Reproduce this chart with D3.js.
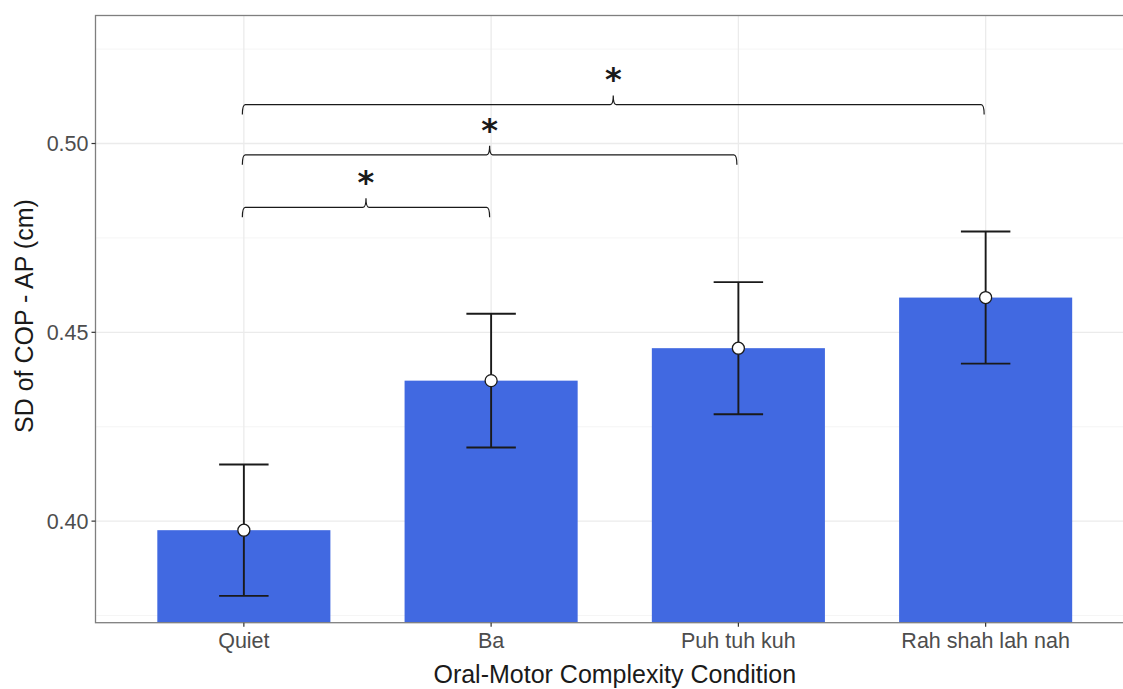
<!DOCTYPE html>
<html>
<head>
<meta charset="utf-8">
<script src="https://cdn.jsdelivr.net/npm/d3@7"></script>
<style>
  body { margin: 0; background: #fff; }
  text { font-family: "Liberation Sans", Arial, sans-serif; }
</style>
</head>
<body>
<div id="chart"></div>
<script>
// data
var conditions = ["Quiet", "Ba", "Puh tuh kuh", "Rah shah lah nah"];
var means = [0.3976, 0.4372, 0.4458, 0.4592];
var errs = [0.0174, 0.0177, 0.0175, 0.0175];
var yTicks = [0.40, 0.45, 0.50];
var yMinor = [0.375, 0.425, 0.475, 0.525];
// significance brackets: from / to condition, height, label
var sigFrom = ["Quiet", "Quiet", "Quiet"];
var sigTo = ["Ba", "Puh tuh kuh", "Rah shah lah nah"];
var sigY = [0.4831, 0.4970, 0.5103];
var sigLabel = ["*", "*", "*"];

var W = 1123, H = 689;
var panel = { left: 95.5, top: 15.5, right: 1134, bottom: 622.7 };

var svg = d3.select("#chart").append("svg")
  .attr("width", W)
  .attr("height", H);

// ggplot style: 0.6 expansion each side on a discrete axis
var step = (panel.right - panel.left) / (conditions.length + 0.2);
var x = d3.scaleBand()
  .domain(conditions)
  .range([panel.left + 0.1 * step, panel.right - 0.1 * step])
  .padding(0);
var xc = function (d) { return x(d) + x.bandwidth() / 2; };
var bw = x.bandwidth() * 0.7;

var y = d3.scaleLinear()
  .domain([0.3731, 0.5339])
  .range([panel.bottom, panel.top]);

//grid
var grid = svg.append("g");
grid.selectAll(".minor").data(yMinor).enter().append("line")
  .attr("x1", panel.left).attr("x2", panel.right)
  .attr("y1", function (d) { return y(d); }).attr("y2", function (d) { return y(d); })
  .attr("stroke", "#f2f2f2").attr("stroke-width", 0.8);
grid.selectAll(".major").data(yTicks).enter().append("line")
  .attr("x1", panel.left).attr("x2", panel.right)
  .attr("y1", function (d) { return y(d); }).attr("y2", function (d) { return y(d); })
  .attr("stroke", "#ebebeb").attr("stroke-width", 1.3);
grid.selectAll(".vmajor").data(conditions).enter().append("line")
  .attr("y1", panel.top).attr("y2", panel.bottom)
  .attr("x1", xc).attr("x2", xc)
  .attr("stroke", "#ebebeb").attr("stroke-width", 1.3);

//bars
svg.selectAll(".bar").data(conditions).enter().append("rect")
  .attr("x", function (d) { return xc(d) - bw / 2; })
  .attr("width", bw)
  .attr("y", function (d, i) { return y(means[i]); })
  .attr("height", function (d, i) { return panel.bottom - y(means[i]); })
  .attr("fill", "#4169e1");

//error bars
var ew = x.bandwidth() * 0.2;
var eb = svg.append("g").attr("stroke", "#1a1a1a").attr("stroke-width", 1.9);
conditions.forEach(function (c, i) {
  var cx = xc(c), hi = y(means[i] + errs[i]), lo = y(means[i] - errs[i]);
  eb.append("line").attr("x1", cx).attr("x2", cx).attr("y1", hi).attr("y2", lo);
  eb.append("line").attr("x1", cx - ew / 2).attr("x2", cx + ew / 2).attr("y1", hi).attr("y2", hi);
  eb.append("line").attr("x1", cx - ew / 2).attr("x2", cx + ew / 2).attr("y1", lo).attr("y2", lo);
});

//mean points
svg.selectAll(".pt").data(conditions).enter().append("circle")
  .attr("cx", xc)
  .attr("cy", function (d, i) { return y(means[i]); })
  .attr("r", 6)
  .attr("fill", "#fff")
  .attr("stroke", "#1a1a1a")
  .attr("stroke-width", 1.3);

//significance braces
function bracePath(x1, x2, yy) {
  var xm = (x1 + x2) / 2, d = 10, c = 3, up = 9;
  return "M" + x1 + "," + (yy + d) +
    " Q" + x1 + "," + yy + " " + (x1 + c) + "," + yy +
    " L" + (xm - c) + "," + yy +
    " Q" + xm + "," + yy + " " + xm + "," + (yy - up) +
    " Q" + xm + "," + yy + " " + (xm + c) + "," + yy +
    " L" + (x2 - c) + "," + yy +
    " Q" + x2 + "," + yy + " " + x2 + "," + (yy + d);
}
sigY.forEach(function (v, i) {
  var x1 = xc(sigFrom[i]) - 1.5, x2 = xc(sigTo[i]) - 1.5;
  svg.append("path")
    .attr("d", bracePath(x1, x2, y(v)))
    .attr("fill", "none")
    .attr("stroke", "#1a1a1a")
    .attr("stroke-width", 1.2);
  svg.append("text")
    .attr("x", (x1 + x2) / 2)
    .attr("y", y(v) - 6)
    .attr("text-anchor", "middle")
    .style("font-family", "DejaVu Sans")
    .style("font-size", "32px")
    .style("font-weight", "bold")
    .attr("fill", "#1a1a1a")
    .text(sigLabel[i])
    .attr("dy", "0.62em")
    .attr("transform", "translate(0,-28)");
});

//panel border
svg.append("rect")
  .attr("x", panel.left).attr("y", panel.top)
  .attr("width", panel.right - panel.left).attr("height", panel.bottom - panel.top)
  .attr("fill", "none").attr("stroke", "#7f7f7f").attr("stroke-width", 1.3);

//y axis ticks
var ya = svg.append("g");
yTicks.forEach(function (t) {
  ya.append("line").attr("x1", panel.left - 4).attr("x2", panel.left)
    .attr("y1", y(t)).attr("y2", y(t)).attr("stroke", "#333").attr("stroke-width", 1.2);
  ya.append("text").attr("x", panel.left - 7).attr("y", y(t)).attr("dy", "0.36em")
    .attr("text-anchor", "end").style("font-size", "21.5px").attr("fill", "#4d4d4d")
    .text(d3.format(".2f")(t));
});

//x axis ticks
var xa = svg.append("g");
conditions.forEach(function (c) {
  xa.append("line").attr("x1", xc(c)).attr("x2", xc(c))
    .attr("y1", panel.bottom).attr("y2", panel.bottom + 4).attr("stroke", "#333").attr("stroke-width", 1.2);
  xa.append("text").attr("x", xc(c)).attr("y", panel.bottom + 25)
    .attr("text-anchor", "middle").style("font-size", "21.5px").attr("fill", "#4d4d4d")
    .text(c);
});

//axis titles
svg.append("text")
  .attr("x", (panel.left + panel.right) / 2).attr("y", 683)
  .attr("text-anchor", "middle").style("font-size", "25px").attr("fill", "#1a1a1a")
  .text("Oral-Motor Complexity Condition");
svg.append("text")
  .attr("transform", "translate(33," + ((panel.top + panel.bottom) / 2 - 3) + ") rotate(-90)")
  .attr("text-anchor", "middle").style("font-size", "25px").attr("fill", "#1a1a1a")
  .text("SD of COP - AP (cm)");
</script>
</body>
</html>
